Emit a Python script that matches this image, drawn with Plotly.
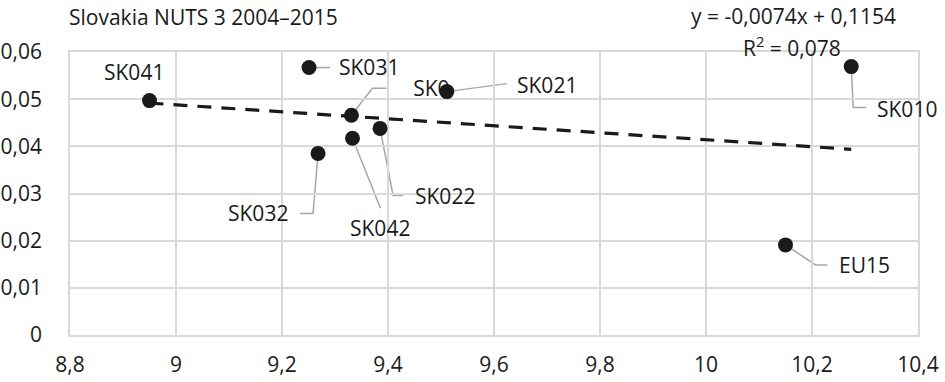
import plotly.graph_objects as go

# ---- data ----
regions = ["SK041", "SK031", "SK023", "SK021", "SK010", "SK022", "SK042", "SK032", "EU15"]
x_vals = [8.95, 9.251, 9.331, 9.511, 10.274, 9.385, 9.333, 9.268, 10.150]
y_vals = [0.0497, 0.0567, 0.0466, 0.0516, 0.0569, 0.0438, 0.0417, 0.0385, 0.0191]
slope = -0.0074
intercept = 0.1154
r2_text = "0,078"
x_ticks = [8.8, 9.0, 9.2, 9.4, 9.6, 9.8, 10.0, 10.2, 10.4]
x_ticktext = ["8,8", "9", "9,2", "9,4", "9,6", "9,8", "10", "10,2", "10,4"]
y_ticks = [0, 0.01, 0.02, 0.03, 0.04, 0.05, 0.06]
y_ticktext = ["0", "0,01", "0,02", "0,03", "0,04", "0,05", "0,06"]
title_text = "Slovakia NUTS 3 2004\u20132015"

# ---- layout constants (pixels) ----
W, H = 945, 382
ML, MR, MT, MB = 70, 27, 52, 47
X_RANGE = [8.8, 10.4]
Y_RANGE = [0, 0.06]
FONT = "Open Sans"
FS = 21
TXT = "#1a1a1a"
GRID = "#d9d9d9"
LEADER = "#a6a6a6"

plot_w = W - ML - MR
plot_h = H - MT - MB
px_per_x = plot_w / (X_RANGE[1] - X_RANGE[0])
px_per_y = plot_h / (Y_RANGE[1] - Y_RANGE[0])

# label placement: (dx, dy screen px, xanchor, leader path pts (screen px, y down))
label_style = {
    "SK041": (-16, -29, "center", None),
    "SK031": (28, -1, "left", [(0, 0), (21, 0)]),
    "SK023": (80, -24, "hidden", [(0, 0), (21, -27), (35, -27)]),
    "SK021": (68, -7, "left", [(0, 0), (60, -8)]),
    "SK010": (24, 42, "left", [(0, 0), (2, 41), (15, 41)]),
    "SK022": (33, 68, "left", [(0, 0), (13, 67), (23, 67)]),
    "SK042": (28, 90, "center", [(0, 0), (28, 70)]),
    "SK032": (-28, 60, "right", [(0, 0), (-5, 60), (-18, 60)]),
    "EU15": (51, 20, "left", [(0, 0), (30, 20), (42, 20)]),
}

fig = go.Figure()

shapes = []
annotations = []
hidden_x, hidden_y, hidden_t = [], [], []
for name, xv, yv in zip(regions, x_vals, y_vals):
    dx, dy, anchor, path = label_style[name]
    if path:
        d = "M " + " L ".join(f"{px},{-py}" for px, py in path)
        shapes.append(dict(type="path", path=d, xref="x", yref="y",
                           xsizemode="pixel", ysizemode="pixel",
                           xanchor=xv, yanchor=yv, layer="below",
                           line=dict(color=LEADER, width=1.5)))
    if anchor == "hidden":
        # label partly hidden behind a neighbouring marker (as in the source)
        hidden_x.append(xv + dx / px_per_x)
        hidden_y.append(yv - dy / px_per_y)
        hidden_t.append("SK0")
    else:
        annotations.append(dict(x=xv, y=yv, xref="x", yref="y", text=name,
                                showarrow=False, xanchor=anchor, yanchor="middle",
                                xshift=dx, yshift=-dy,
                                font=dict(family=FONT, size=FS, color=TXT)))

# hidden label drawn first so markers cover it
fig.add_trace(go.Scatter(x=hidden_x, y=hidden_y, mode="text", text=hidden_t,
                         textposition="middle center",
                         textfont=dict(family=FONT, size=FS, color=TXT),
                         hoverinfo="skip"))

# trend line
sk_x = [v for n, v in zip(regions, x_vals) if n.startswith("SK")]
tx = [min(sk_x), max(sk_x)]
ty = [slope * v + intercept for v in tx]
fig.add_trace(go.Scatter(x=tx, y=ty, mode="lines",
                         line=dict(color="#1a1a1a", width=3.2, dash="14px,10px"),
                         hoverinfo="skip"))

# points
fig.add_trace(go.Scatter(x=x_vals, y=y_vals, mode="markers",
                         marker=dict(color="#1a1a1a", size=15),
                         hoverinfo="skip"))

# title and equation (paper coords from pixel positions)
annotations.append(dict(x=(67 - ML) / plot_w, y=(H - MB - 17) / plot_h,
                        xref="paper", yref="paper", text=title_text, showarrow=False,
                        xanchor="left", yanchor="middle",
                        font=dict(family=FONT, size=FS, color=TXT)))
eq_text = f"y = {slope:.4f}x + {intercept:.4f}".replace(".", ",")
annotations.append(dict(x=(793 - ML) / plot_w, y=(H - MB - 16) / plot_h,
                        xref="paper", yref="paper", text=eq_text, showarrow=False,
                        xanchor="center", yanchor="middle",
                        font=dict(family=FONT, size=FS, color=TXT)))
annotations.append(dict(x=(792 - ML) / plot_w, y=(H - MB - 46) / plot_h,
                        xref="paper", yref="paper", text=f"R<sup>2</sup> = {r2_text}",
                        showarrow=False, xanchor="center", yanchor="middle",
                        font=dict(family=FONT, size=FS, color=TXT)))

fig.update_layout(
    width=W, height=H,
    margin=dict(l=ML, r=MR, t=MT, b=MB, autoexpand=False),
    paper_bgcolor="white", plot_bgcolor="white",
    showlegend=False,
    hovermode=False,
    font=dict(family=FONT, size=FS, color=TXT),
    shapes=shapes,
    annotations=annotations,
    xaxis=dict(range=X_RANGE, tickvals=x_ticks, ticktext=x_ticktext,
               showgrid=True, gridcolor=GRID, gridwidth=1.5,
               showline=True, linecolor=GRID, linewidth=1.5, mirror=True,
               zeroline=False, ticks="", ticklabelstandoff=10, automargin=False,
               tickfont=dict(family=FONT, size=FS, color=TXT)),
    yaxis=dict(range=Y_RANGE, tickvals=y_ticks, ticktext=y_ticktext,
               showgrid=True, gridcolor=GRID, gridwidth=1.5,
               showline=True, linecolor=GRID, linewidth=1.5, mirror=True,
               zeroline=False, ticks="", ticklabelstandoff=22, automargin=False,
               tickfont=dict(family=FONT, size=FS, color=TXT)),
)

fig.write_html("out.html", config={"displayModeBar": False},
               post_script="document.body.style.margin='0';document.body.style.overflow='hidden';")
